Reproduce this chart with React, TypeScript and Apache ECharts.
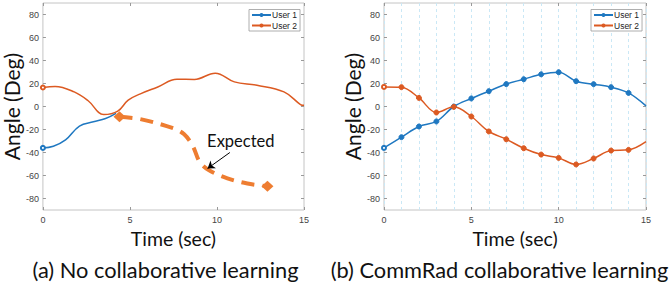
import React, { useEffect, useRef } from "react";
import * as echarts from "echarts";

// ---- Data ----
const yTicks = [-80, -60, -40, -20, 0, 20, 40, 60, 80];
const xTicks = [0, 5, 10, 15];

// (a) No collaborative learning
const leftBlueT = [0, 0.6, 1.3, 2.1, 2.9, 3.6, 4.2];
const leftBlueY = [-36, -34.5, -29, -17, -13.3, -10.5, -6];
const leftOrangeT = [0, 0.7, 1.8, 2.6, 3.5, 4.3, 4.9, 5.6, 6.6, 7.7, 8.7, 9.9, 11, 12.3, 13.85, 14.8, 15];
const leftOrangeY = [16.5, 17.5, 12.7, 5, -7, -4, 5.5, 11, 17, 23.7, 23.5, 29, 21.4, 18.5, 12.7, 1.7, 1];
const expectedT = [4.4, 5.6, 7.5, 8.1, 8.6, 9.0, 9.5, 10.6, 11.75, 12.9];
const expectedY = [-9, -11, -19, -24, -34, -48, -55, -62.5, -67, -69.3];

// (b) CommRad collaborative learning
const rightT = [0, 1, 2, 3, 4, 5, 6, 7, 8, 9, 10, 11, 12, 13, 14, 15];
const rightUser1 = [-36, -26.7, -17.4, -13, 0, 7, 13.3, 19.5, 23.7, 28, 29.8, 22, 19.4, 16.8, 11.8, 0.5];
const rightUser2 = [17, 16.8, 7.5, -5.2, -0.3, -8.7, -21.7, -28.5, -36.3, -41.8, -44.7, -50.4, -45.2, -38.3, -37.7, -30.5];

const BLUE = "#1f78c1";
const ORANGE = "#dc5a22";
const EXP = "#ee7d31";
const TICKFONT = "Liberation Sans";
const LABELFONT = "Lato";

export default function App() {
  const ref = useRef<HTMLDivElement>(null);
  useEffect(() => {
    if (!ref.current) return;
    const chart = echarts.init(ref.current, null, { renderer: "svg" });

    const gridW = 262;
    const grids = [
      { left: 42, top: 3, width: gridW, height: 207 },
      { left: 384, top: 3, width: gridW, height: 207 },
    ].map((g) => ({ ...g, show: true, borderColor: "#c4c4c4", borderWidth: 1, backgroundColor: "transparent" }));

    const gridLine = { show: true, lineStyle: { color: "#cae8f6", type: [3, 3], width: 1 } };

    const mkX = (gi: number, right: boolean) => [
      {
        type: "value",
        gridIndex: gi,
        min: 0,
        max: 15,
        interval: 5,
        position: "bottom",
        name: "Time (sec)",
        nameLocation: "middle",
        nameGap: 14,
        nameTextStyle: { fontFamily: LABELFONT, fontSize: 19.5, color: "#111" },
        axisLine: { show: false, onZero: false },
        axisTick: { show: true, inside: true, length: 3, lineStyle: { color: "#999" } },
        axisLabel: { fontFamily: TICKFONT, fontSize: 9, color: "#444", margin: 5, customValues: xTicks },
        splitLine: right ? gridLine : { show: false },
        minorTick: { show: false, splitNumber: 5 },
        minorSplitLine: right ? gridLine : { show: false },
      },
      {
        type: "value",
        gridIndex: gi,
        min: 0,
        max: 15,
        interval: 5,
        position: "top",
        axisLine: { show: false, onZero: false },
        axisTick: { show: true, inside: true, length: 3, lineStyle: { color: "#999" } },
        axisLabel: { show: false },
        splitLine: { show: false },
      },
    ];
    const mkY = (gi: number) => [
      {
        type: "value",
        gridIndex: gi,
        min: -90,
        max: 90,
        position: "left",
        name: "Angle (Deg)",
        nameLocation: "middle",
        nameGap: 17,
        nameTextStyle: { fontFamily: LABELFONT, fontSize: 21, color: "#111" },
        axisLine: { show: false, onZero: false },
        axisTick: { show: true, inside: true, length: 3, customValues: yTicks, lineStyle: { color: "#999" } },
        axisLabel: { fontFamily: TICKFONT, fontSize: 9, color: "#444", margin: 4, customValues: yTicks },
        splitLine: { show: false },
      },
      {
        type: "value",
        gridIndex: gi,
        min: -90,
        max: 90,
        position: "right",
        axisLine: { show: false, onZero: false },
        axisTick: { show: true, inside: true, length: 3, customValues: yTicks, lineStyle: { color: "#999" } },
        axisLabel: { show: false },
        splitLine: { show: false },
      },
    ];

    const xAxis = [...mkX(0, false), ...mkX(1, true)];
    const yAxis = [...mkY(0), ...mkY(1)];

    const pairs = (ts: number[], ys: number[], firstSym: string, lastSym: string, midSym: string) =>
      ts.map((t, i) => {
        let sym = midSym;
        if (i === 0) sym = firstSym;
        if (i === ts.length - 1) sym = lastSym;
        return { value: [t, ys[i]], symbol: sym, symbolSize: i === 0 ? 4 : 5 };
      });

    const series: any[] = [
      {
        name: "User 1",
        type: "line",
        xAxisIndex: 0,
        yAxisIndex: 0,
        smooth: 0.4,
        symbol: "circle",
        symbolSize: 5,
        data: pairs(leftBlueT, leftBlueY, "emptyCircle", "none", "none"),
        lineStyle: { color: BLUE, width: 1.5 },
        itemStyle: { color: BLUE, borderWidth: 1 },
        z: 3,
      },
      {
        name: "User 2",
        type: "line",
        xAxisIndex: 0,
        yAxisIndex: 0,
        smooth: 0.4,
        symbol: "circle",
        symbolSize: 5,
        data: pairs(leftOrangeT, leftOrangeY, "emptyCircle", "none", "none"),
        lineStyle: { color: ORANGE, width: 1.5 },
        itemStyle: { color: ORANGE, borderWidth: 1 },
        z: 3,
      },
      {
        name: "Expected",
        type: "line",
        xAxisIndex: 0,
        yAxisIndex: 0,
        smooth: 0.35,
        symbol: "diamond",
        symbolSize: [12, 11],
        data: expectedT.map((t, i) => ({
          value: [t, expectedY[i]],
          symbol: i === 0 || i === expectedT.length - 1 ? "diamond" : "none",
        })),
        lineStyle: { color: EXP, width: 4, type: [13, 8] },
        itemStyle: { color: EXP },
        z: 4,
        markLine: {
          silent: true,
          symbol: ["none", "arrow"],
          symbolSize: 7,
          lineStyle: { color: "#000", width: 1, type: "solid" },
          label: { show: false },
          data: [[{ coord: [10.74, -40] }, { coord: [9.46, -53.9] }]],
        },
        markPoint: {
          silent: true,
          symbol: "rect",
          symbolSize: 1,
          itemStyle: { color: "transparent" },
          label: {
            show: true,
            position: "inside",
            formatter: "Expected",
            fontFamily: LABELFONT,
            fontSize: 16.5,
            color: "#111",
          },
          data: [{ coord: [11.37, -30] }],
        },
      },
      {
        name: "User 1",
        type: "line",
        xAxisIndex: 2,
        yAxisIndex: 2,
        smooth: 0.35,
        symbol: "circle",
        symbolSize: 5,
        data: pairs(rightT, rightUser1, "emptyCircle", "none", "circle"),
        lineStyle: { color: BLUE, width: 1.5 },
        itemStyle: { color: BLUE, borderColor: BLUE, borderWidth: 1 },
        z: 3,
      },
      {
        name: "User 2",
        type: "line",
        xAxisIndex: 2,
        yAxisIndex: 2,
        smooth: 0.35,
        symbol: "circle",
        symbolSize: 5,
        data: pairs(rightT, rightUser2, "emptyCircle", "none", "circle"),
        lineStyle: { color: ORANGE, width: 1.5 },
        itemStyle: { color: ORANGE, borderColor: ORANGE, borderWidth: 1 },
        z: 3,
      },
    ];

    const legendBase = {
      orient: "vertical",
      data: ["User 1", "User 2"],
      backgroundColor: "#fff",
      borderColor: "#9a9a9a",
      borderWidth: 0.8,
      borderRadius: 0,
      padding: [1, 3, 1, 2],
      itemGap: 1.5,
      itemWidth: 19,
      itemHeight: 5,
      selectedMode: false,
      textStyle: { fontFamily: TICKFONT, fontSize: 8.5, lineHeight: 9, color: "#222", padding: [0, 0, 0, -4] },
    };

    chart.setOption({
      animation: false,
      grid: grids,
      xAxis,
      yAxis,
      series,
      legend: [
        { ...legendBase, left: 249, top: 9.5 },
        { ...legendBase, left: 591, top: 9.5 },
      ],
      graphic: [
        {
          type: "text",
          x: 165.5,
          y: 269,
          style: {
            text: "(a) No collaborative learning",
            fontFamily: LABELFONT,
            fontSize: 21.8,
            fill: "#111",
            align: "center",
            verticalAlign: "middle",
          },
        },
        {
          type: "text",
          x: 499.5,
          y: 269,
          style: {
            text: "(b) CommRad collaborative learning",
            fontFamily: LABELFONT,
            fontSize: 21.8,
            fill: "#111",
            align: "center",
            verticalAlign: "middle",
          },
        },
      ],
    });
    return () => chart.dispose();
  }, []);
  return <div ref={ref} style={{ width: 671, height: 290, position: "absolute", left: 0, top: 0 }} />;
}
